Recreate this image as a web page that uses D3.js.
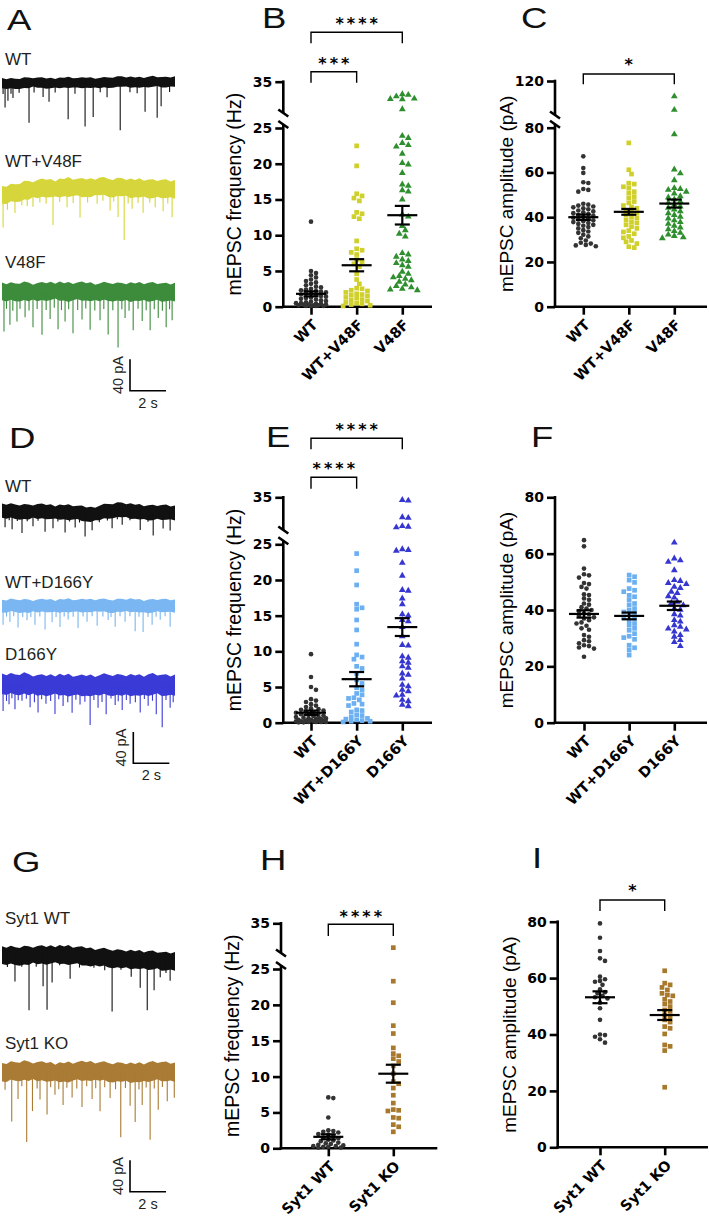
<!DOCTYPE html>
<html><head><meta charset="utf-8">
<script src="https://cdn.jsdelivr.net/npm/d3@7"></script>
<style>body{margin:0;background:#fff}svg{display:block}</style>
</head><body>
<script>
// ================= DATA =================
const catsBC = ["WT", "WT+V48F", "V48F"];
const catsEF = ["WT", "WT+D166Y", "D166Y"];
const catsHI = ["Syt1 WT", "Syt1 KO"];

const freqTicksLower = [0, 5, 10, 15, 20, 25];
const freqTicksUpper = [35];
const ampTicksLower = [0, 20, 40, 60, 80];
const ampTicksUpperC = [120];

// Panel B: mEPSC frequency (Hz)
const B_WT = [11.9,5.0,4.7,4.4,4.1,3.8,3.6,3.4,3.2,3.0,2.8,2.7,2.5,2.4,2.3,2.2,2.1,2.0,1.9,1.8,1.7,1.6,1.5,1.4,1.3,1.2,1.1,1.0,0.9,0.8,0.7,0.6,0.5,0.5,0.4,0.4,0.3,0.3,0.3,0.2,0.2,0.2,0.1,0.1,0.1,0.1];
const B_WTV48F = [22.5,19.7,15.8,15.5,15.2,14.8,13.2,13.0,12.6,12.3,9.2,8.1,7.9,7.6,7.3,6.6,6.3,6.0,5.6,4.6,3.8,3.2,2.6,2.5,2.3,2.2,2.0,1.8,1.7,1.6,1.5,1.3,1.2,1.0,0.9,0.8,0.6,0.5,0.4,0.3,0.2,0.1];
const B_V48F = [30.8,31.0,30.3,29.6,29.5,29.4,26.2,23.9,23.6,22.9,22.6,22.4,21.4,20.1,19.9,18.7,17.1,16.9,16.3,16.1,15.0,12.9,12.6,11.3,10.7,10.2,9.8,7.5,7.3,7.0,6.6,6.4,6.1,5.8,5.6,4.9,4.6,4.3,4.1,3.9,3.7,3.5,3.1,2.9,2.7,2.5,2.4,2.3];
const B_mean = [1.8, 5.8, 12.8];
const B_sem = [0.35, 0.85, 1.3];

// Panel C: mEPSC amplitude (pA)
const C_WT = [67.2,62.0,59.8,55.6,55.3,52.6,52.2,51.4,46.0,45.6,45.2,44.8,44.4,44.0,43.5,43.0,42.6,42.2,41.8,41.4,41.0,40.6,40.2,39.8,39.4,39.0,38.6,38.2,37.8,37.4,37.0,36.6,36.2,35.6,35.0,34.2,33.6,33.0,32.2,31.4,30.6,29.6,28.6,28.2,27.6,27.4,27.0];
const C_WTV48F = [73.2,61.2,59.3,55.2,54.8,53.6,53.0,51.4,50.8,49.2,48.6,47.0,46.4,45.2,44.6,44.0,43.0,42.4,41.8,41.0,40.2,39.6,38.8,38.0,37.4,36.6,35.8,35.0,34.0,33.4,32.6,31.4,30.8,29.6,29.0,28.2,26.8,26.4];
const C_V48F = [102,86,77,61.3,59.6,56.5,53.0,52.6,52.2,51.4,50.6,49.4,48.8,48.0,47.0,46.4,45.6,44.8,44.2,43.4,42.6,41.8,41.0,40.2,39.4,38.6,37.8,37.0,36.2,35.4,34.6,33.8,33.0,32.2,31.6,31.0,30.6];
const C_mean = [40.0, 42.4, 46.1];
const C_sem = [1.2, 1.3, 1.8];

// Panel E: mEPSC frequency (Hz)
const E_WT = [9.6,6.4,5.0,4.6,3.3,3.1,2.9,2.6,2.4,2.2,2.0,1.9,1.8,1.7,1.6,1.5,1.4,1.3,1.2,1.1,1.0,0.9,0.8,0.8,0.7,0.6,0.6,0.5,0.5,0.4,0.4,0.3,0.3,0.3,0.2,0.2,0.2,0.1,0.1,0.1,0.1,0.05,0.05];
const E_WTD166Y = [23.7,21.3,19.3,16.6,16.1,15.9,14.4,13.0,11.0,9.5,9.2,8.9,7.9,7.6,6.9,6.0,5.5,4.9,4.6,4.1,3.9,3.5,3.4,3.2,2.7,2.6,2.4,1.8,1.7,1.5,1.1,1.0,0.8,0.6,0.5,0.4,0.3,0.2,0.2,0.1];
const E_D166Y = [34.2,34.0,28.9,28.7,26.2,26.0,25.8,24.3,24.2,24.1,22.4,20.6,18.6,18.5,17.4,16.6,15.2,15.0,14.4,14.2,13.4,12.1,10.9,10.8,9.3,9.1,8.6,8.4,7.9,7.7,6.9,6.7,6.2,5.3,5.1,4.6,4.4,3.9,3.8,3.2,3.0,2.5,2.3];
const E_mean = [1.4, 6.1, 13.4];
const E_sem = [0.3, 1.0, 1.25];

// Panel F: mEPSC amplitude (pA)
const F_WT = [64.8,62.6,54.7,52.7,52.3,51.5,49.6,49.2,48.2,47.6,45.6,45.3,44.1,43.6,42.3,41.9,41.0,40.5,40.0,39.6,38.8,38.5,38.0,37.4,37.0,36.4,35.6,35.2,34.4,33.5,33.0,31.1,30.5,29.3,28.9,28.2,27.5,27.2,26.7,26.3,23.4];
const F_WTD166Y = [52.4,51.8,50.6,49.8,47.6,47.0,46.5,45.2,44.7,43.6,42.3,41.8,40.5,40.0,39.3,38.8,38.2,37.5,37.0,36.2,35.2,34.6,33.5,32.8,31.6,30.7,30.2,29.6,27.5,26.6,25.8,24.0];
const F_D166Y = [63.9,58.3,57.6,57.1,54.1,50.6,50.3,49.6,49.2,48.2,47.8,46.5,46.0,44.9,44.4,42.9,42.5,41.7,40.5,40.1,38.5,38.0,36.4,35.9,34.6,34.0,33.4,33.1,32.4,31.1,30.5,29.3,28.6,27.2];
const F_mean = [38.6, 37.9, 41.5];
const F_sem = [1.3, 1.2, 1.5];

// Panel H: mEPSC frequency (Hz)
const H_WT = [7.1,7.0,4.3,2.5,2.4,2.3,2.2,2.0,1.9,1.7,1.5,1.4,1.2,1.1,1.0,0.8,0.7,0.6,0.5,0.4,0.3,0.3,0.2,0.2,0.1,0.1];
const H_KO = [26.8,23.3,20.3,17.1,16.0,14.0,13.2,12.9,12.5,12.1,11.5,10.4,9.3,9.0,8.4,7.4,6.3,5.4,5.3,5.2,4.3,4.2,3.3,3.0,2.3];
const H_mean = [1.6, 10.4];
const H_sem = [0.35, 1.25];

// Panel I: mEPSC amplitude (pA)
const I_WT = [79.4,74.3,69.6,67.0,66.1,60.5,59.6,59.0,58.7,57.6,56.0,55.0,54.6,53.7,53.2,52.8,51.3,49.3,45.2,40.0,39.8,39.2,38.3,37.1];
const I_KO = [62.6,58.2,57.6,56.7,55.8,54.6,54.0,53.7,52.5,51.7,50.8,49.9,48.7,48.2,46.9,46.3,45.2,44.4,42.8,42.2,40.2,36.3,35.8,34.3,21.3];
const I_mean = [53.2, 46.9];
const I_sem = [2.1, 1.75];

// Traces: events [time (s), amplitude (pA)], baseline drift (pA) at driftTimes
const driftTimes = [0, 0.6, 1.2, 1.8, 2.4, 3.0, 3.6, 4.2, 4.8, 5.4, 6.0, 6.6, 7.2, 7.8, 8.4, 9.0, 9.6];
// baseline noise envelope (fraction of noise half-width), read as a texture
const rippleTop = [0.2,-0.5,0.8,0.1,-0.3,0.9,0.4,-0.6,0.3,0.7,-0.2,0.5,-0.8,0.6,0.0,0.9,-0.4,0.3,0.8,-0.1,0.5,-0.7,0.2,0.9,0.1,-0.5,0.6,0.4,-0.3,0.8,0.0,0.7,-0.6,0.4,0.9,-0.2,0.3,0.6,-0.4,0.5];
const rippleBot = [0.5,0.9,-0.2,0.6,1.0,0.3,0.8,-0.4,0.7,0.2,0.9,0.5,-0.1,0.8,0.4,1.0,0.2,-0.3,0.7,0.6,0.9,0.1,0.5,-0.2,0.8,1.0,0.3,0.6,-0.1,0.9,0.4,0.7,0.2,1.0,0.5,-0.3,0.8,0.6,0.1,0.7];

const trA_WT_ev = [[0.06,14],[0.17,31],[0.33,22],[0.5,13],[0.61,18],[0.95,12],[1.5,51],[1.78,13],[2.28,18],[2.61,24],[2.95,12],[3.67,47],[4.05,14],[4.61,56],[5.06,44],[5.45,12],[5.83,19],[6.56,62],[7.1,13],[7.5,14],[7.94,38],[8.61,46],[8.83,31],[9.3,13]];
const trA_WT_drift = [0,-1,0,1,0,0,1,0,1,0,1,2,1,1,2,1,2];
const trA_WTV48F_ev = [[0.06,42],[0.3,20],[0.72,26],[1.1,18],[1.4,20],[1.72,22],[2.1,18],[2.45,20],[2.83,47],[3.2,18],[3.61,26],[3.95,20],[4.33,38],[4.75,19],[5.28,22],[5.6,18],[6.0,29],[6.2,18],[6.44,38],[6.78,67],[7.0,20],[7.22,26],[7.55,19],[7.83,32],[8.2,18],[8.5,23],[8.94,29],[9.2,19],[9.44,36]];
const trA_WTV48F_drift = [-6,-4,-1,1,3,2,4,3,3,5,3,4,2,3,1,2,1];
const trA_V48F_ev = [[0.11,51],[0.25,22],[0.44,42],[0.6,24],[0.83,38],[1.0,22],[1.28,33],[1.5,24],[1.72,45],[1.95,22],[2.22,55],[2.45,24],[2.67,36],[2.9,22],[3.11,49],[3.3,24],[3.5,38],[3.7,22],[3.94,53],[4.2,24],[4.44,36],[4.65,22],[4.89,49],[5.15,24],[5.44,36],[5.65,22],[5.89,55],[6.15,24],[6.44,71],[6.65,22],[6.83,33],[7.05,24],[7.28,49],[7.55,22],[7.78,38],[8.0,24],[8.22,49],[8.45,22],[8.67,33],[8.9,24],[9.11,45],[9.3,22],[9.44,36]];
const trA_V48F_drift = [1,0,1,0,1,2,0,1,1,0,1,0,0,1,0,0,0];
const trD_WT_ev = [[0.17,21],[0.4,12],[0.56,23],[0.85,12],[1.11,27],[1.4,12],[1.72,19],[2.0,12],[2.39,26],[2.83,21],[3.1,12],[3.5,26],[3.75,12],[4.06,19],[4.3,12],[4.61,29],[5.0,21],[5.4,12],[5.85,12],[6.11,23],[6.4,12],[6.67,19],[7.1,12],[7.67,23],[8.1,12],[8.39,29],[8.94,21],[9.33,23]];
const trD_WT_drift = [2,1,0,1,1,0,0,-1,-3,-1,2,3,1,0,-1,0,-1];
const trD_WTD166Y_ev = [[0.06,24],[0.25,14],[0.44,21],[0.65,14],[0.89,28],[1.15,14],[1.39,18],[1.6,14],[1.83,24],[2.1,14],[2.39,31],[2.78,21],[3.0,14],[3.22,27],[3.45,14],[3.67,18],[3.95,14],[4.22,28],[4.5,14],[4.72,21],[5.0,14],[5.28,26],[5.6,14],[5.89,18],[6.05,14],[6.28,27],[6.55,14],[6.83,21],[7.1,14],[7.39,33],[7.6,14],[7.83,33],[8.1,14],[8.33,24],[8.55,14],[8.78,18],[9.05,14],[9.33,27]];
const trD_WTD166Y_drift = [0,1,0,0,1,0,1,0,1,1,0,1,1,0,0,1,0];
const trD_D166Y_ev = [[0.06,35],[0.25,22],[0.39,26],[0.55,18],[0.72,32],[0.9,21],[1.11,22],[1.35,19],[1.56,29],[1.8,22],[2.0,35],[2.2,18],[2.44,24],[2.7,21],[2.94,38],[3.15,19],[3.39,27],[3.65,22],[3.89,35],[4.1,18],[4.33,24],[4.6,21],[4.89,51],[5.1,19],[5.33,29],[5.55,22],[5.78,38],[6.05,18],[6.28,26],[6.45,21],[6.67,32],[6.9,19],[7.11,24],[7.4,22],[7.67,35],[7.9,18],[8.11,27],[8.35,21],[8.56,38],[8.89,54],[9.1,19],[9.33,29],[9.5,22]];
const trD_D166Y_drift = [2,1,2,0,0,1,0,-1,0,0,1,0,0,0,1,0,0];
const trG_WT_ev = [[0.3,15],[0.72,33],[1.1,14],[1.5,70],[1.9,15],[2.28,40],[2.5,70],[2.78,36],[3.2,14],[3.78,30],[4.3,15],[5.1,14],[5.7,16],[6.11,68],[6.6,14],[7.17,22],[7.67,36],[8.06,64],[8.44,38],[8.78,21],[9.1,15],[9.33,25]];
const trG_WT_drift = [4,3,3,4,4,5,4,3,2,1,0,-1,-2,-2,-3,-4,-4];
const trG_KO_ev = [[0.17,23],[0.54,64],[0.89,36],[1.1,20],[1.37,91],[1.69,51],[1.95,22],[2.11,36],[2.5,55],[2.7,20],[2.94,29],[3.15,22],[3.39,42],[3.6,20],[3.89,33],[4.15,22],[4.44,46],[4.7,20],[5.0,36],[5.2,22],[5.44,51],[5.7,20],[6.0,33],[6.3,22],[6.59,83],[6.85,20],[7.11,42],[7.39,63],[7.6,22],[7.78,42],[8.0,20],[8.22,87],[8.45,22],[8.67,49],[8.9,20],[9.17,38],[9.56,33]];
const trG_KO_drift = [0,1,2,1,1,0,0,1,2,1,0,0,-1,0,1,1,0];

// ================= DRAWING =================
const svg = d3.select("body").append("svg").attr("width", 709).attr("height", 1223);
const SANS = "'Liberation Sans', Arial, Helvetica, sans-serif";
const BOLDF = "'DejaVu Sans', 'Liberation Sans', sans-serif";
const AXW = 2.6;

const COL = {
  wt: "#333333", yellow: "#d0d02c", green: "#2f8f2f",
  lblue: "#6cb0f2", dblue: "#3636d0", brown: "#a8782c"
};

function panelLetter(t, x, y) {
  svg.append("text").attr("transform", `translate(${x},${y}) scale(1.22,1)`)
    .attr("font-family", SANS).attr("font-size", 30).attr("fill", "#111").text(t);
}

// deterministic beeswarm: centre-out placement with elliptical collision, limited spread
function swarm(ys, rx, ry, maxS) {
  const order = d3.range(ys.length).sort((a, b) => ys[a] - ys[b]);
  const placed = [], xs = new Array(ys.length);
  const step = rx * 0.5;
  const nMax = Math.floor(maxS / step);
  order.forEach(i => {
    let best = 0, bestScore = -1;
    for (let k = 0; k <= 2 * nMax; k++) {
      const off = k === 0 ? 0 : (k % 2 ? 1 : -1) * Math.ceil(k / 2) * step;
      let minD = Infinity;
      for (const [px, py] of placed) {
        const dd = ((px - off) / rx) ** 2 + ((py - ys[i]) / ry) ** 2;
        if (dd < minD) minD = dd;
      }
      if (minD >= 1) { best = off; bestScore = Infinity; break; }
      if (minD > bestScore) { bestScore = minD; best = off; }
    }
    xs[i] = best; placed.push([best, ys[i]]);
  });
  return xs;
}

function styleAxis(s) {
  s.select(".domain").remove();
  s.selectAll(".tick line").attr("stroke", "#000").attr("stroke-width", AXW);
  s.selectAll("text").attr("font-family", BOLDF).attr("font-weight", "bold")
    .attr("font-size", 14).attr("fill", "#000");
}

function scatterPanel(p) {
  const g = svg.append("g");
  const lower = d3.scaleLinear().domain(p.lowDom).range(p.lowRange);
  const upper = p.upDom ? d3.scaleLinear().domain(p.upDom).range(p.upRange) : null;
  const yOf = v => (upper && v > p.lowDom[1]) ? upper(v) : lower(v);
  const x = d3.scalePoint().domain(p.cats).range(p.catRange);
  const ax = p.axisX, ay = lower(0);
  const line = (x1, y1, x2, y2, w) => g.append("line").attr("x1", x1).attr("y1", y1)
    .attr("x2", x2).attr("y2", y2).attr("stroke", "#000").attr("stroke-width", w);

  const lowTop = upper ? p.lowRange[1] - 3.5 : p.lowRange[1] - AXW / 2;
  line(ax, ay + AXW / 2, ax, lowTop, AXW);
  if (upper) {
    const upBot = p.upRange[0];
    line(ax, upBot, ax, p.upRange[1] - AXW / 2, AXW);
    [lowTop, upBot].forEach(yb => line(ax - 5, yb - 3.5, ax + 5, yb + 3.5, AXW));
  }
  g.append("g").attr("transform", `translate(${ax},0)`)
    .call(d3.axisLeft(lower).tickValues(p.lowTicks).tickSize(8).tickPadding(3)).call(styleAxis);
  if (upper) g.append("g").attr("transform", `translate(${ax},0)`)
    .call(d3.axisLeft(upper).tickValues(p.upTicks).tickSize(8).tickPadding(3)).call(styleAxis);

  line(ax - AXW / 2, ay, p.axisEnd, ay, AXW);
  const xa = g.append("g").attr("transform", `translate(0,${ay})`)
    .call(d3.axisBottom(x).tickSize(8).tickPadding(0)).call(styleAxis);
  xa.selectAll("text").attr("x", 0).attr("y", 0).attr("dy", null)
    .attr("text-anchor", "end").attr("font-size", 14.5)
    .attr("transform", "translate(7,19) rotate(-45)");

  g.append("text")
    .attr("transform", `translate(${ax - 42},${(ay + (upper ? p.upRange[1] : p.lowRange[1])) / 2}) rotate(-90)`)
    .attr("text-anchor", "middle").attr("font-family", SANS).attr("font-size", p.titleSize)
    .attr("fill", "#000").text(p.title);

  p.groups.forEach((vals, i) => {
    const cx = x(p.cats[i]);
    const ys = vals.map(yOf);
    const offs = swarm(ys, p.spacing[i], p.spacing[i] * 0.8, p.maxSpread);
    const sym = d3.symbol().type(p.shapes[i]).size(p.sizes[i]);
    g.append("g").selectAll("path").data(vals).join("path")
      .attr("transform", (d, j) => `translate(${cx + offs[j]},${ys[j]})`)
      .attr("d", sym).attr("fill", p.colors[i]);
  });
  p.means.forEach((m, i) => {
    const cx = x(p.cats[i]), s = p.sems[i];
    const yt = yOf(m + s), yb = yOf(m - s);
    line(cx - 15, yOf(m), cx + 15, yOf(m), 2.2);
    line(cx, yt, cx, yb, 2.2);
    line(cx - 7.5, yt, cx + 7.5, yt, 2.2);
    line(cx - 7.5, yb, cx + 7.5, yb, 2.2);
  });
  (p.brackets || []).forEach(b => {
    const x1 = x(p.cats[b.a]), x2 = x(p.cats[b.b]);
    g.append("path").attr("d", `M${x1},${b.leg}V${b.y}H${x2}V${b.leg}`)
      .attr("fill", "none").attr("stroke", "#000").attr("stroke-width", 1.4);
    g.append("text").attr("x", (x1 + x2) / 2 + 1.5).attr("y", b.sy + 8.5)
      .attr("text-anchor", "middle").attr("font-family", BOLDF).attr("font-weight", "bold")
      .attr("font-size", 16).attr("letter-spacing", 3).attr("fill", "#000").text(b.stars);
  });
}

// ---------- traces ----------
const traceX = d3.scaleLinear().domain([0, 9.6]).range([2, 175]);
const traceAmp = d3.scaleLinear().domain([0, 40]).range([0, 31.4]);
const rippleX = d3.scaleLinear().domain([0, rippleTop.length - 1]).range([0, 9.6]);

function trace(label, labelY, cy, noise, drift, events, color) {
  svg.append("text").attr("x", 5).attr("y", labelY).attr("font-family", SANS)
    .attr("font-size", 17).attr("fill", "#231f20").text(label);
  const dr = d3.scaleLinear().domain(driftTimes).range(drift);
  const pts = rippleTop.map((r, i) => {
    const t = rippleX(i);
    return {t, base: cy - traceAmp(dr(t)), top: noise * (1 + 0.22 * r), bot: noise * (1 + 0.22 * rippleBot[i])};
  });
  const area = d3.area().x(d => traceX(d.t))
    .y0(d => d.base + traceAmp(d.bot))
    .y1(d => d.base - traceAmp(d.top))
    .curve(d3.curveLinear);
  svg.append("path").attr("d", area(pts)).attr("fill", color);
  svg.append("g").selectAll("line").data(events).join("line")
    .attr("x1", d => traceX(d[0])).attr("x2", d => traceX(d[0]))
    .attr("y1", d => cy - traceAmp(dr(d[0])))
    .attr("y2", d => cy - traceAmp(dr(d[0])) + traceAmp(d[1]))
    .attr("stroke", color).attr("stroke-width", 1.1);
}

function scaleBar(x0, yb) {
  const h = traceAmp(40), w = traceX(2) - traceX(0);
  svg.append("path").attr("d", `M${x0},${yb - h}V${yb}H${x0 + w}`)
    .attr("fill", "none").attr("stroke", "#000").attr("stroke-width", 1.6);
  svg.append("text").attr("transform", `translate(${x0 - 7},${yb - h / 2}) rotate(-90)`)
    .attr("text-anchor", "middle").attr("font-family", SANS).attr("font-size", 14.5)
    .attr("fill", "#231f20").text("40 pA");
  svg.append("text").attr("x", x0 + w / 2).attr("y", yb + 17)
    .attr("text-anchor", "middle").attr("font-family", SANS).attr("font-size", 14.5)
    .attr("fill", "#231f20").text("2 s");
}

// Row 1
panelLetter("A", 7, 30);
trace("WT", 65, 83, 6, trA_WT_drift, trA_WT_ev, "#111");
trace("WT+V48F", 167, 190, 10.5, trA_WTV48F_drift, trA_WTV48F_ev, "#d6d63c");
trace("V48F", 268, 292, 10.5, trA_V48F_drift, trA_V48F_ev, "#3c8c3c");
scaleBar(130, 390.7);

const shapes3 = [d3.symbolCircle, d3.symbolSquare, d3.symbolTriangle];
panelLetter("B", 262, 28);
scatterPanel({
  cats: catsBC, catRange: [311, 402.3], axisX: 283.3, axisEnd: 432,
  lowDom: [0, 25], lowRange: [306.7, 128], lowTicks: freqTicksLower,
  upDom: [25, 35], upRange: [113, 81.7], upTicks: freqTicksUpper,
  title: "mEPSC frequency (Hz)", titleSize: 19.5,
  groups: [B_WT, B_WTV48F, B_V48F], means: B_mean, sems: B_sem,
  colors: [COL.wt, COL.yellow, COL.green], shapes: shapes3,
  sizes: [17, 22, 20], spacing: [5, 5.4, 6], maxSpread: 15,
  brackets: [{a: 0, b: 2, y: 32.3, leg: 43.3, stars: "****", sy: 20},
             {a: 0, b: 1, y: 71.7, leg: 82.7, stars: "***", sy: 60}]
});

panelLetter("C", 521, 28);
scatterPanel({
  cats: catsBC, catRange: [583.3, 674.3], axisX: 555, axisEnd: 707,
  lowDom: [0, 80], lowRange: [306.7, 127.7], lowTicks: ampTicksLower,
  upDom: [80, 120], upRange: [115, 81], upTicks: ampTicksUpperC,
  title: "mEPSC amplitude (pA)", titleSize: 19,
  groups: [C_WT, C_WTV48F, C_V48F], means: C_mean, sems: C_sem,
  colors: [COL.wt, COL.yellow, COL.green], shapes: shapes3,
  sizes: [17, 22, 20], spacing: [5, 5.4, 6], maxSpread: 15,
  brackets: [{a: 0, b: 2, y: 74, leg: 84.3, stars: "*", sy: 61.7}]
});

// Row 2
panelLetter("D", 9, 448);
trace("WT", 491.7, 512, 8.5, trD_WT_drift, trD_WT_ev, "#111");
trace("WT+D166Y", 588.3, 606, 7.5, trD_WTD166Y_drift, trD_WTD166Y_ev, "#7ab6f2");
trace("D166Y", 660, 685, 12, trD_D166Y_drift, trD_D166Y_ev, "#3a3ad6");
scaleBar(133.3, 763.3);

panelLetter("E", 266, 447);
scatterPanel({
  cats: catsEF, catRange: [311, 402.3], axisX: 283.3, axisEnd: 432,
  lowDom: [0, 25], lowRange: [722.7, 544.3], lowTicks: freqTicksLower,
  upDom: [25, 35], upRange: [530, 497.3], upTicks: freqTicksUpper,
  title: "mEPSC frequency (Hz)", titleSize: 19.5,
  groups: [E_WT, E_WTD166Y, E_D166Y], means: E_mean, sems: E_sem,
  colors: [COL.wt, COL.lblue, COL.dblue], shapes: shapes3,
  sizes: [17, 22, 20], spacing: [5, 5.4, 6], maxSpread: 15,
  brackets: [{a: 0, b: 2, y: 438.3, leg: 449.3, stars: "****", sy: 426},
             {a: 0, b: 1, y: 477.3, leg: 488.7, stars: "****", sy: 465}]
});

panelLetter("F", 531, 447);
scatterPanel({
  cats: catsEF, catRange: [584, 674.3], axisX: 555, axisEnd: 707,
  lowDom: [0, 80], lowRange: [722.7, 497.3], lowTicks: ampTicksLower,
  title: "mEPSC amplitude (pA)", titleSize: 19,
  groups: [F_WT, F_WTD166Y, F_D166Y], means: F_mean, sems: F_sem,
  colors: [COL.wt, COL.lblue, COL.dblue], shapes: shapes3,
  sizes: [17, 22, 20], spacing: [5, 5.4, 6], maxSpread: 15
});

// Row 3
panelLetter("G", 12, 872);
trace("Syt1 WT", 924, 958, 10.5, trG_WT_drift, trG_WT_ev, "#111");
trace("Syt1 KO", 1048.5, 1072, 11, trG_KO_drift, trG_KO_ev, "#a97b34");
scaleBar(130, 1191.7);

panelLetter("H", 260, 870);
scatterPanel({
  cats: catsHI, catRange: [328.3, 393.3], axisX: 281, axisEnd: 437.3,
  lowDom: [0, 25], lowRange: [1148.3, 969], lowTicks: freqTicksLower,
  upDom: [25, 35], upRange: [953, 923.3], upTicks: freqTicksUpper,
  title: "mEPSC frequency (Hz)", titleSize: 19.5,
  groups: [H_WT, H_KO], means: H_mean, sems: H_sem,
  colors: [COL.wt, COL.brown], shapes: [d3.symbolCircle, d3.symbolSquare],
  sizes: [17, 22], spacing: [5, 5.4], maxSpread: 17,
  brackets: [{a: 0, b: 1, y: 924.3, leg: 936, stars: "****", sy: 913.3}]
});

panelLetter("I", 532, 868);
scatterPanel({
  cats: catsHI, catRange: [600, 664.7], axisX: 557.7, axisEnd: 708,
  lowDom: [0, 80], lowRange: [1147.3, 921.7], lowTicks: ampTicksLower,
  title: "mEPSC amplitude (pA)", titleSize: 19,
  groups: [I_WT, I_KO], means: I_mean, sems: I_sem,
  colors: [COL.wt, COL.brown], shapes: [d3.symbolCircle, d3.symbolSquare],
  sizes: [17, 22], spacing: [5, 5.4], maxSpread: 15,
  brackets: [{a: 0, b: 1, y: 900, leg: 911, stars: "*", sy: 887.3}]
});
</script>
</body></html>
